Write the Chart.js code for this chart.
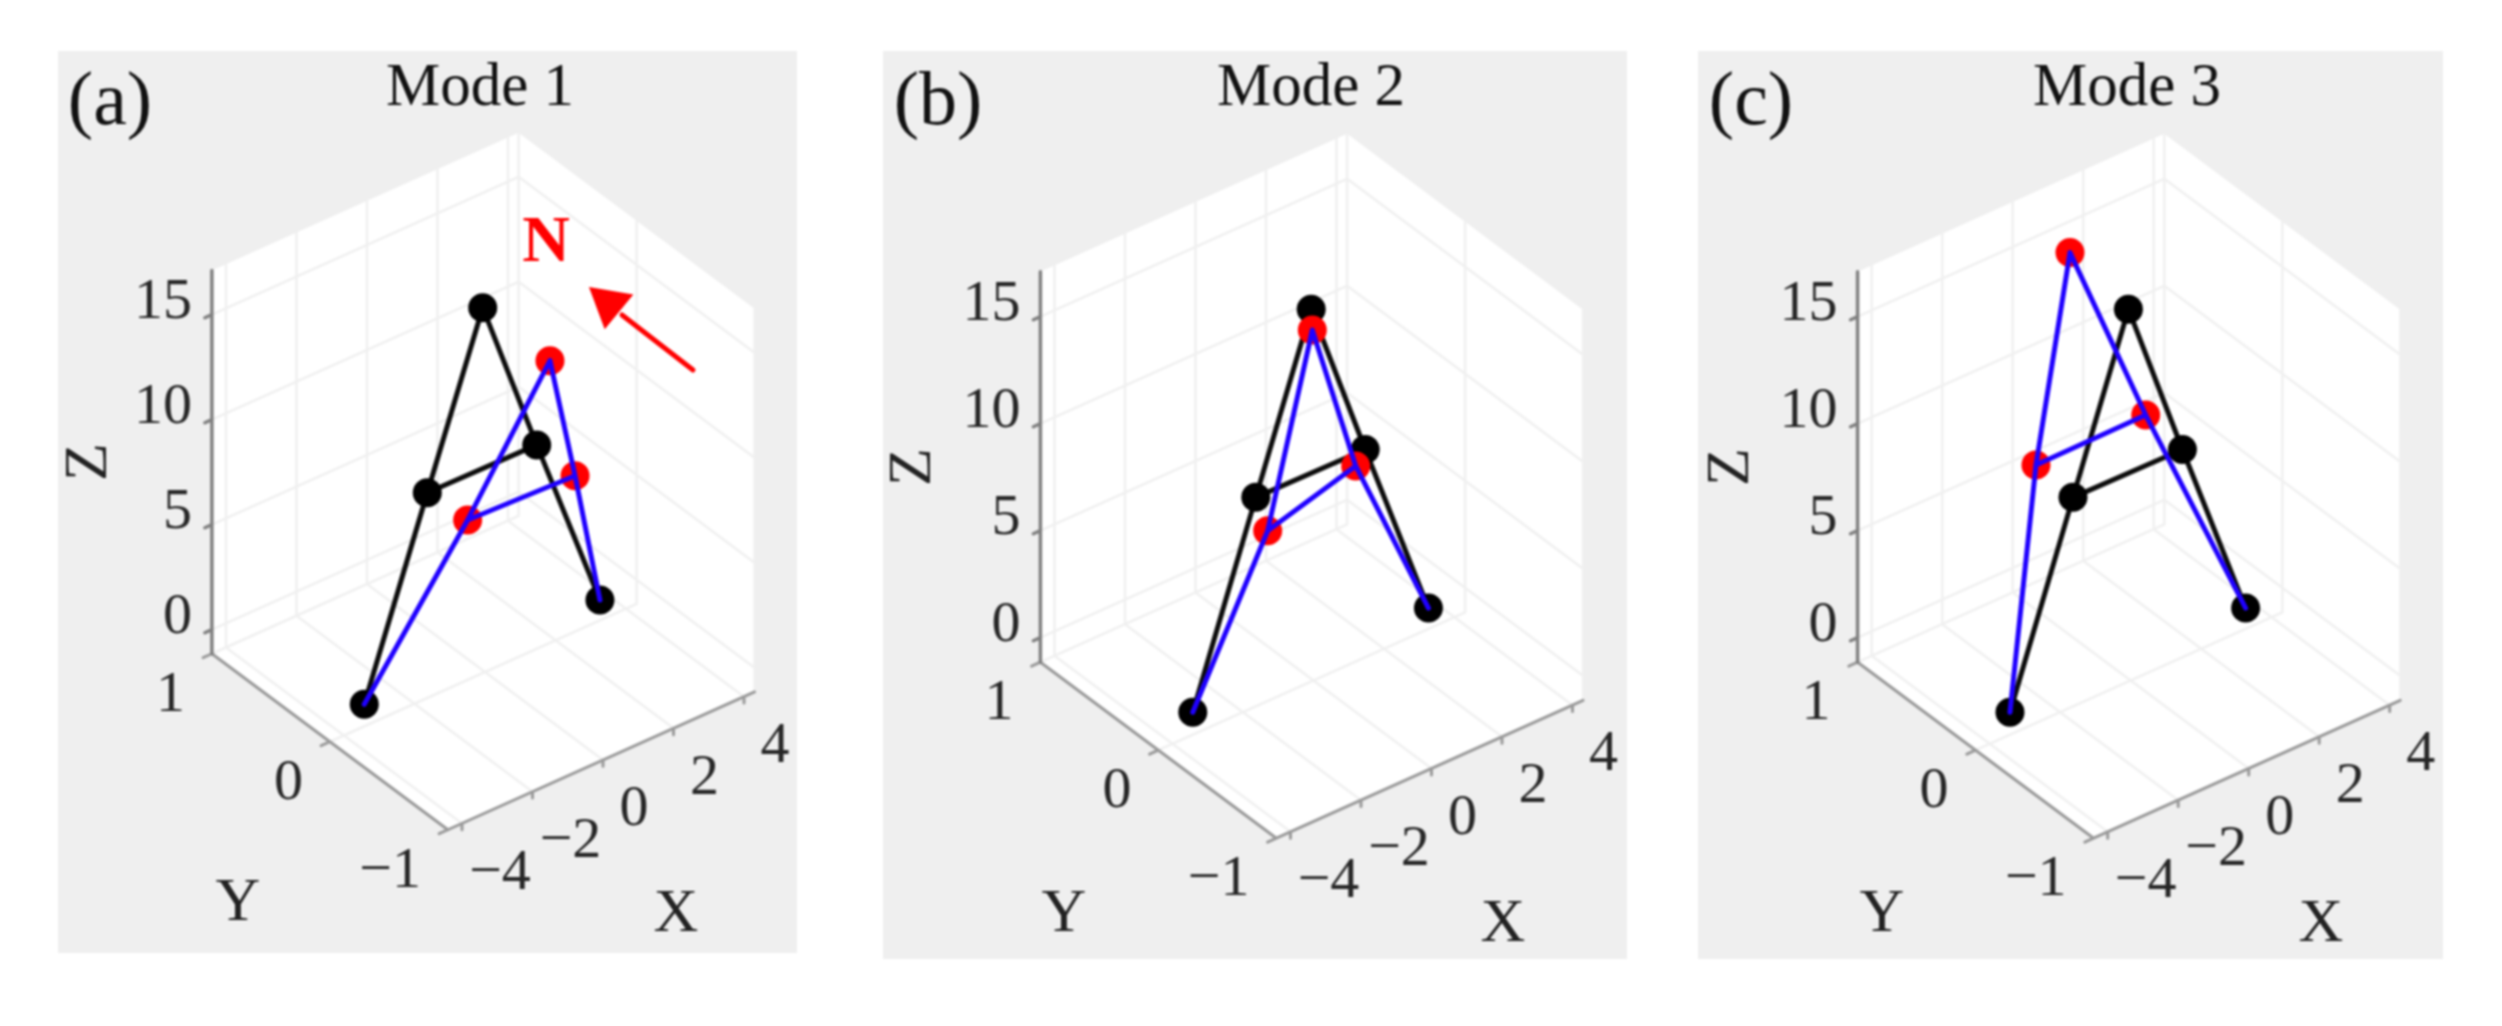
<!DOCTYPE html>
<html>
<head>
<meta charset="utf-8">
<title>Mode shapes</title>
<script src="https://cdn.jsdelivr.net/npm/chart.js@4"></script>
<style>
  html, body { margin: 0; background: #fff; width: 2502px; height: 1026px; overflow: hidden; }
  canvas { position: absolute; filter: blur(1.2px); }
</style>
</head>
<body>
<canvas id="modeA"></canvas>
<canvas id="modeB"></canvas>
<canvas id="modeC"></canvas>
<script>
// undeformed frame, node order: base left, mid left, apex, mid right, base right
var restX = [-3.475, -1.637, -0.065, 1.467, 3.17];
var restY = [-0.015, 0, 0, 0, -0.027];
var restZ = [0, 8.62, 16.25, 8.56, 0];

// deformed frame, one set per mode
var mode1X = [-3.475, -1.567, -0.132, 1.413, 3.17];
var mode1Y = [-0.015, -0.321, -0.59, -0.341, -0.027];
var mode1Z = [0, 8.62, 16.25, 8.56, 0];

var mode2X = [-3.475, -1.3, -0.034, 1.197, 3.17];
var mode2Y = [-0.015, 0, 0, 0, -0.027];
var mode2Z = [0, 6.81, 15.25, 7.99, 0];

var mode3X = [-3.475, -2.687, -1.722, 0.426, 3.17];
var mode3Y = [-0.015, 0, 0, 0, -0.027];
var mode3Z = [0, 10.91, 20.12, 10.94, 0];

// members between nodes
var edges = [[0, 1], [1, 2], [2, 3], [3, 4], [1, 3]];

var xTicks = [-4, -2, 0, 2, 4];
var yTicks = [-1, 0, 1];
var zTicks = [0, 5, 10, 15];
var xLim = [-4.4, 4.3];
var yLim = [-1, 1];
var zLim = [-1.15, 17.1];

var panels = [
  { id: "modeA", tag: "(a)", title: "Mode 1", rx: mode1X, ry: mode1Y, rz: mode1Z,
    box: [58, 51, 739, 902], o: [485, 647.9], ux: [35.25, -15.84], uy: [-118, -88], uz: -21,
    tagAt: [110, 104], titleAt: [480, 89], zAt: [90, 462], yAt: [238, 904], xAt: [676, 915] },
  { id: "modeB", tag: "(b)", title: "Mode 2", rx: mode2X, ry: mode2Y, rz: mode2Z,
    box: [883, 51, 744, 908], o: [1313.5, 655.9], ux: [35.25, -15.84], uy: [-118, -88], uz: -21.4,
    tagAt: [938, 104], titleAt: [1311, 89], zAt: [914, 467], yAt: [1064, 915], xAt: [1503, 925] },
  { id: "modeC", tag: "(c)", title: "Mode 3", rx: mode3X, ry: mode3Y, rz: mode3Z,
    box: [1698, 51, 745, 908], o: [2130.7, 655.9], ux: [35.25, -15.84], uy: [-118, -88], uz: -21.4,
    tagAt: [1751, 104], titleAt: [2127, 89], zAt: [1732, 467], yAt: [1882, 915], xAt: [2321, 925] }
];

function fmt(v) {
  return v < 0 ? "\u2212" + Math.abs(v) : String(v);
}

function drawPanel(p) {
  var canvas = document.getElementById(p.id);
  canvas.style.left = p.box[0] + "px";
  canvas.style.top = p.box[1] + "px";

  // 3d to chart units, the chart scales run in page pixels of this panel
  function proj(x, y, z) {
    return {
      x: p.o[0] + p.ux[0] * x + p.uy[0] * y,
      y: p.o[1] + p.ux[1] * x + p.uy[1] * y + p.uz * z
    };
  }

  function segments(list) {
    var out = [];
    list.forEach(function (s) {
      out.push(proj(s[0], s[1], s[2]), proj(s[3], s[4], s[5]), { x: NaN, y: NaN });
    });
    return out;
  }

  function frameLines(xs, ys, zs) {
    return segments(edges.map(function (e) {
      return [xs[e[0]], ys[e[0]], zs[e[0]], xs[e[1]], ys[e[1]], zs[e[1]]];
    }));
  }

  function nodes(xs, ys, zs, from, to) {
    var out = [];
    for (var i = from; i <= to; i++) out.push(proj(xs[i], ys[i], zs[i]));
    return out;
  }

  var grid = [];
  zTicks.forEach(function (z) {
    grid.push([xLim[0], 1, z, xLim[1], 1, z]);
    grid.push([xLim[1], 1, z, xLim[1], -1, z]);
  });
  xTicks.forEach(function (x) {
    grid.push([x, 1, zLim[0], x, 1, zLim[1]]);
    grid.push([x, 1, zLim[0], x, -1, zLim[0]]);
  });
  yTicks.forEach(function (y) {
    grid.push([xLim[1], y, zLim[0], xLim[1], y, zLim[1]]);
    grid.push([xLim[0], y, zLim[0], xLim[1], y, zLim[0]]);
  });

  var floorAxes = [
    [xLim[0], -1, zLim[0], xLim[1], -1, zLim[0]],
    [xLim[0], -1, zLim[0], xLim[0], 1, zLim[0]]
  ];
  xTicks.forEach(function (x) { floorAxes.push([x, -1, zLim[0], x, -1, zLim[0] - 0.3]); });
  yTicks.forEach(function (y) { floorAxes.push([xLim[0], y, zLim[0], xLim[0] - 0.25, y, zLim[0]]); });

  var zAxis = [[xLim[0], 1, zLim[0], xLim[0], 1, zLim[1]]];
  zTicks.forEach(function (z) { zAxis.push([xLim[0], 1, z, xLim[0] - 0.2, 1, z]); });

  var datasets = [
    { data: frameLines(p.rx, p.ry, p.rz), borderColor: "#1f00ff", borderWidth: 5, pointRadius: 0, showLine: true, order: 1 },
    { data: nodes(p.rx, p.ry, p.rz, 1, 3), backgroundColor: "#ff0000", pointRadius: 14.5, borderWidth: 0, order: 2 },
    { data: nodes(restX, restY, restZ, 0, 4), backgroundColor: "#000", pointRadius: 14.5, borderWidth: 0, order: 3 },
    { data: frameLines(restX, restY, restZ), borderColor: "#0c0c0c", borderWidth: 5, pointRadius: 0, showLine: true, order: 4 },
    { data: segments(zAxis), borderColor: "#808080", borderWidth: 3.5, pointRadius: 0, showLine: true, order: 7 },
    { data: segments(floorAxes), borderColor: "#9a9a9a", borderWidth: 3, pointRadius: 0, showLine: true, order: 8 },
    { data: segments(grid), borderColor: "#f0f0f0", borderWidth: 2.5, pointRadius: 0, showLine: true, order: 9 }
  ];

  // the wind arrow only appears on the first panel
  if (p.id === "modeA") {
    datasets.unshift(
      { data: [{ x: 693, y: 370 }, { x: 622, y: 315 }], borderColor: "#ff0000", borderWidth: 5, pointRadius: 0, showLine: true, order: 5 },
      { data: [{ x: 609, y: 303.6 }], backgroundColor: "#ff0000", pointStyle: "triangle", pointRotation: -50.5, pointRadius: 26, borderWidth: 0, order: 5 }
    );
  }

  // grey panel and white 3d box behind the marks, all the text on top
  var panelDress = {
    id: "panelDress",
    beforeDatasetsDraw: function (chart) {
      var c = chart.ctx, sx = chart.scales.x, sy = chart.scales.y;
      c.save();
      c.fillStyle = "#efefef";
      c.fillRect(0, 0, chart.width, chart.height);
      var corners = [
        proj(xLim[0], 1, zLim[0]), proj(xLim[0], 1, zLim[1]), proj(xLim[1], 1, zLim[1]),
        proj(xLim[1], -1, zLim[1]), proj(xLim[1], -1, zLim[0]), proj(xLim[0], -1, zLim[0])
      ];
      c.fillStyle = "#fff";
      c.beginPath();
      corners.forEach(function (k, i) {
        var px = sx.getPixelForValue(k.x), py = sy.getPixelForValue(k.y);
        if (i === 0) c.moveTo(px, py); else c.lineTo(px, py);
      });
      c.closePath();
      c.fill();
      c.restore();
    },
    afterDatasetsDraw: function (chart) {
      var c = chart.ctx, sx = chart.scales.x, sy = chart.scales.y;
      function text(str, at, font, color, align, rot) {
        c.save();
        c.font = font;
        c.fillStyle = color;
        c.textAlign = align || "center";
        c.textBaseline = "middle";
        c.translate(sx.getPixelForValue(at.x), sy.getPixelForValue(at.y));
        if (rot) c.rotate(rot);
        c.fillText(str, 0, 0);
        c.restore();
      }
      var serif = '"Liberation Serif", serif';
      text(p.tag, { x: p.tagAt[0], y: p.tagAt[1] }, "76px " + serif, "#111");
      text(p.title, { x: p.titleAt[0], y: p.titleAt[1] }, "61px " + serif, "#111");
      text("Z", { x: p.zAt[0], y: p.zAt[1] }, "62px " + serif, "#222", "center", -Math.PI / 2);
      text("Y", { x: p.yAt[0], y: p.yAt[1] }, "62px " + serif, "#222");
      text("X", { x: p.xAt[0], y: p.xAt[1] }, "62px " + serif, "#222");
      zTicks.forEach(function (z) {
        var k = proj(xLim[0], 1, z);
        text(fmt(z), { x: k.x - 20, y: k.y - 12 }, "58px " + serif, "#262626", "right");
      });
      yTicks.forEach(function (y) {
        var k = proj(xLim[0], y, zLim[0]);
        text(fmt(y), { x: k.x - 27, y: k.y + 42 }, "58px " + serif, "#262626", "right");
      });
      xTicks.forEach(function (x) {
        var k = proj(x, -1, zLim[0]);
        text(fmt(x), { x: k.x + (x < 0 ? 38 : 31), y: k.y + 50 }, "58px " + serif, "#262626");
      });
      if (p.id === "modeA") {
        text("N", { x: 546, y: 244 }, "bold 66px " + serif, "#ff0000");
      }
    }
  };

  new Chart(canvas, {
    type: "scatter",
    data: { datasets: datasets },
    plugins: [panelDress],
    options: {
      responsive: false,
      devicePixelRatio: 1,
      animation: false,
      events: [],
      // no extra room for big markers, the scales have to fill the canvas
      layout: { padding: 0, autoPadding: false },
      elements: { line: { borderCapStyle: "round", tension: 0 } },
      plugins: { legend: { display: false }, tooltip: { enabled: false } },
      scales: {
        x: { type: "linear", display: false, min: p.box[0], max: p.box[0] + p.box[2] },
        y: { type: "linear", display: false, reverse: true, min: p.box[1], max: p.box[1] + p.box[3] }
      }
    }
  });
}

panels.forEach(function (p) {
  var canvas = document.getElementById(p.id);
  canvas.width = p.box[2];
  canvas.height = p.box[3];
  canvas.style.width = p.box[2] + "px";
  canvas.style.height = p.box[3] + "px";
  drawPanel(p);
});
</script>
</body>
</html>
